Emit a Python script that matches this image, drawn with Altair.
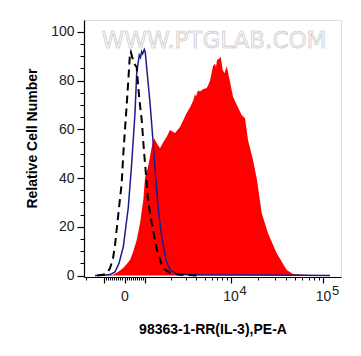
import math
import altair as alt
import pandas as pd

# ---- data (x in display channels 0..257 of the biexponential axis, y = % of max) ----
sample_x = [16, 29, 34, 39, 43, 46, 49, 52.7, 56, 59.3, 61, 64, 67.7, 70, 72.7, 76, 79, 82.7,
            86, 91, 96, 99, 102.7, 106, 109.3, 111, 112, 114, 116, 119, 122.7, 124, 126, 129,
            131, 132, 133, 135, 136.7, 138.7, 140.5, 142.7, 146, 149, 154, 157.7, 161, 164,
            169, 173, 177.7, 184, 192.7, 202.7, 209, 221, 236, 246]
sample_y = [0, 0.3, 1.5, 3, 4.8, 6.4, 9.6, 14.6, 21.5, 31, 40, 44.5, 52.7, 56.4, 54.4, 52.3, 54.5, 57,
            59.7, 58.5, 61, 63.5, 66.7, 69, 72, 74.5, 73.5, 76, 75.5, 76.5, 77, 78, 80, 86,
            87, 85.5, 88.5, 89, 89.8, 84.4, 83, 86, 79.6, 73.4, 69, 65.9, 64.6, 55.6,
            47.4, 39.2, 25.7, 17.4, 9.2, 2.3, 0.6, 0.3, 0.1, 0]

isotype_x = [11, 20, 26, 31, 35, 39.3, 44.3, 47.7, 51, 52.7, 54, 55.3, 56.5, 57.7, 58.7, 60.3,
             61.3, 63, 66, 68.7, 71, 74.3, 77.7, 82, 86, 92, 101, 116, 166, 216, 246]
isotype_y = [0, 0.1, 0.4, 1.5, 5, 11.8, 28, 46, 66.7, 83, 87, 90.5, 89.5, 91.9, 91, 92.8,
             91.5, 84, 71, 57, 44, 27, 16, 6.4, 2.3, 0.8, 0.5, 0.3, 0.2, 0.1, 0]

blank_x = [13, 19, 23, 26, 29, 31, 34.3, 37.7, 39.3, 42.7, 44.3, 46, 46.7, 48, 49.5, 51, 52.7,
           54.3, 56, 57.7, 60, 62.7, 64, 67.7, 72.7, 77.7, 81, 86, 96, 116]
blank_y = [0, 0.3, 1, 3, 7, 12.5, 25, 38, 50, 70, 80, 91.3, 91.9, 90, 87.5, 86.5, 85.5,
           77, 70, 64, 51, 38, 31, 21.5, 11, 4.5, 2.5, 1, 0.3, 0]

# axis ticks (display channel of each decade mark)
major_pos = [20, 40.5, 61, 146.5, 239]
major_lab = ["", "0", "", "10", "10"]
exp_pos = [146.5, 239]
exp_lab = ["4", "5"]
minor_pos = ([40.5 + k * 2.05 for k in range(-9, 10) if k != 0]
             + [61 + 85.5 * math.log10(k) for k in range(2, 10)]
             + [146.5 + 92.5 * math.log10(k) for k in range(2, 10)] + [2])

y_major = [0, 20, 40, 60, 80, 100]
y_minor = [v for v in range(5, 105, 5) if v % 20 != 0]

x_title = "98363-1-RR(IL-3),PE-A"
y_title = "Relative Cell Number"
watermark = "WWW.PTGLAB.COM"

FONT = "Liberation Sans"
xs = alt.Scale(domain=[0, 257], nice=False, zero=False)
ys = alt.Scale(domain=[-0.6, 104.9], nice=False, zero=False)

lab_expr = "{" + ",".join(f"'{p}':'{l}'" for p, l in zip(major_pos, major_lab)) + "}[''+datum.value]"

x_major_axis = alt.Axis(values=major_pos, labelExpr=lab_expr, tickSize=6, tickWidth=1.2,
                        tickColor="black", domainColor="black", domainWidth=1.2, grid=False,
                        labelFont=FONT, labelFontSize=14, labelColor="#222", labelPadding=6,
                        title=x_title, titleFont=FONT, titleFontSize=14, titleFontWeight="bold",
                        titleColor="black", titleBaseline="alphabetic", titleY=56, titleX=128.5,
                        orient="bottom")
x_minor_axis = alt.Axis(values=minor_pos, labels=False, tickSize=3, tickWidth=1,
                        tickColor="black", domain=False, grid=False, title=None, orient="bottom")
y_major_axis = alt.Axis(values=y_major, tickSize=7, tickWidth=1.2, tickColor="black",
                        domainColor="black", domainWidth=1.2, grid=False,
                        labelFont=FONT, labelFontSize=14, labelColor="#222", labelPadding=3,
                        title=y_title, titleFont=FONT, titleFontSize=14, titleFontWeight="bold",
                        titleColor="black", titleBaseline="alphabetic", titleX=-47.5, titleY=118,
                        titleAngle=-90, titleAlign="center", orient="left")
y_minor_axis = alt.Axis(values=y_minor, labels=False, tickSize=4, tickWidth=1, tickColor="black",
                        domain=False, grid=False, title=None, orient="left")

sample_df = pd.DataFrame({"x": sample_x, "y": sample_y})
iso_df = pd.DataFrame({"x": isotype_x, "y": isotype_y})
blank_df = pd.DataFrame({"x": blank_x, "y": blank_y})
exp_df = pd.DataFrame({"x": exp_pos, "t": exp_lab})

wm = alt.Chart(pd.DataFrame({"t": [watermark]})).mark_text(
    font="DejaVu Sans", fontSize=23, fill="#f6f6f6", stroke="#c2c2c2", strokeWidth=0.6,
    align="center", baseline="middle"
).encode(x=alt.value(130), y=alt.value(20.5), text="t:N")

area = alt.Chart(sample_df).mark_area(color="#ff0000", interpolate="linear").encode(
    x=alt.X("x:Q", scale=xs, axis=x_major_axis),
    y=alt.Y("y:Q", scale=ys, axis=y_major_axis),
)

iso = alt.Chart(iso_df).mark_line(color="#1c1c8e", strokeWidth=1.5).encode(
    x=alt.X("x:Q", scale=xs, axis=x_minor_axis),
    y=alt.Y("y:Q", scale=ys, axis=y_minor_axis),
)

blank = alt.Chart(blank_df).mark_line(color="black", strokeWidth=2, strokeDash=[8, 5]).encode(
    x=alt.X("x:Q", scale=xs, axis=None),
    y=alt.Y("y:Q", scale=ys, axis=None),
)

exps = alt.Chart(exp_df).mark_text(
    font=FONT, fontSize=13, color="#222", align="left", baseline="middle", dx=9
).encode(x=alt.X("x:Q", scale=xs, axis=None), y=alt.value(271), text="t:N")

chart = alt.layer(area, iso, blank, wm, exps).resolve_axis(x="independent", y="independent").properties(
    width=257, height=257,
    autosize=alt.AutoSizeParams(type="none"),
    padding={"left": 76, "top": 12, "right": 12, "bottom": 71},
).configure_view(stroke="black", strokeWidth=1.2).configure(background="white")

chart.save("out.html", embed_options={"renderer": "svg", "actions": False})
